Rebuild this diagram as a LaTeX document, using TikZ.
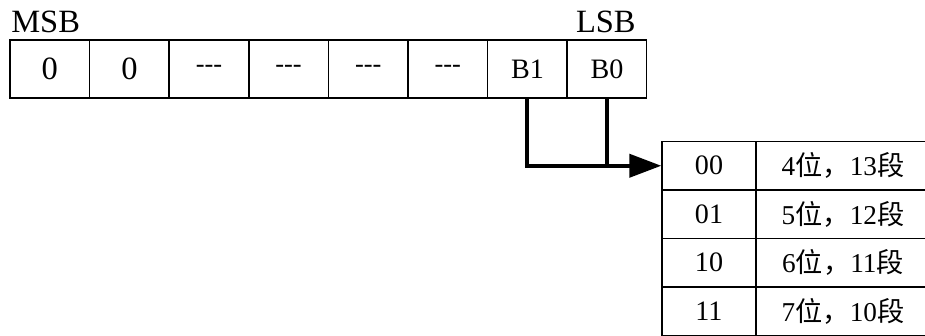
\documentclass[tikz,border=0pt]{standalone}
\usepackage{fontspec}
\setmainfont{Liberation Serif}
\newfontfamily\cjk{Noto Sans CJK SC}
\usetikzlibrary{arrows.meta}
\newcommand{\tripdash}{{-}{-}{-}}
\tikzset{
  bitcell/.style={draw, line width=0.8pt, minimum width=1.59cm, minimum height=1.16cm, inner sep=0pt},
  bigdigit/.style={font=\fontsize{18.5}{21}\selectfont},
  smalltext/.style={font=\fontsize{16}{18}\selectfont},
  dashtext/.style={font=\fontsize{15}{17}\selectfont},
  codecell/.style={draw, line width=0.8pt, minimum width=1.88cm, minimum height=0.97cm, inner sep=0pt, smalltext},
  segcell/.style={codecell, minimum width=3.48cm, font=\fontsize{15.5}{17}\selectfont},
  link/.style={line width=2.3pt},
}

\begin{document}
\begin{tikzpicture}[x=0.02cm, y=-0.02cm]
			%%%%% START %%%%%
			\useasboundingbox (0, 0) rectangle (925, 335);
			
			% register, MSB on the left
			\node[anchor=base west, inner sep=0pt, bigdigit] (msb) at (11, 32) {MSB};
			\node[anchor=base east, inner sep=0pt, bigdigit] (lsb) at (636, 32) {LSB};
			
			\node[bitcell, bigdigit] (b7) at (49.8, 69) {0};
			\node[bitcell, bigdigit] (b6) at (129.4, 69) {0};
			\node[bitcell, dashtext] (b5) at (209, 69) {\tripdash};
			\node[bitcell, dashtext] (b4) at (288.6, 69) {\tripdash};
			\node[bitcell, dashtext] (b3) at (368.2, 69) {\tripdash};
			\node[bitcell, dashtext] (b2) at (447.8, 69) {\tripdash};
			\node[bitcell, smalltext] (b1) at (527.4, 69) {B1};
			\node[bitcell, smalltext] (b0) at (607, 69) {B0};
			
			% code table
			\node[codecell] (r00) at (709, 165.75) {00};
			\node[codecell] (r01) at (709, 214.25) {01};
			\node[codecell] (r10) at (709, 262.75) {10};
			\node[codecell] (r11) at (709, 311.25) {11};
			\node[segcell] (s00) at (843, 165.75) {4{\cjk 位，}13{\cjk 段}};
			\node[segcell] (s01) at (843, 214.25) {5{\cjk 位，}12{\cjk 段}};
			\node[segcell] (s10) at (843, 262.75) {6{\cjk 位，}11{\cjk 段}};
			\node[segcell] (s11) at (843, 311.25) {7{\cjk 位，}10{\cjk 段}};
			
			% B1 B0 into the table
			\draw[link, -{Triangle[length=0.64cm, width=0.46cm]}] (b1.south) |- (r00.west);
			\draw[link] (b0.south) -- (b0.south |- r00.west);
			
			%%%%% END %%%%%
		\end{tikzpicture}
\end{document}
